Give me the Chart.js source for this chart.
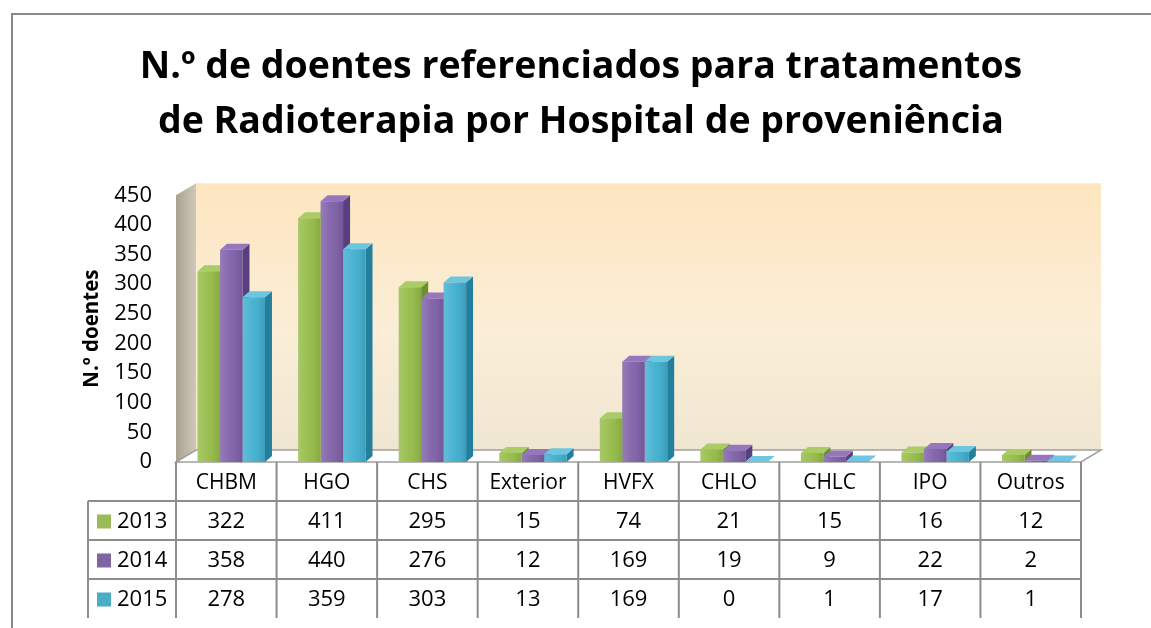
<!DOCTYPE html>
<html>
<head>
<meta charset="utf-8">
<script src="https://cdn.jsdelivr.net/npm/chart.js@4"></script>
<style>
  body { margin: 0; background: #fff; }
  canvas { display: block; }
</style>
</head>
<body>
<canvas id="chart" width="1151" height="628"></canvas>
<script>
// ===== DATA =====
const categories = ['CHBM', 'HGO', 'CHS', 'Exterior', 'HVFX', 'CHLO', 'CHLC', 'IPO', 'Outros'];
const years = ['2013', '2014', '2015'];
const values2013 = [322, 411, 295, 15, 74, 21, 15, 16, 12];
const values2014 = [358, 440, 276, 12, 169, 19, 9, 22, 2];
const values2015 = [278, 359, 303, 13, 169, 0, 1, 17, 1];
const yMax = 450;
const yStep = 50;

// ===== STYLE =====
const FONT = '"Open Sans", "DejaVu Sans", sans-serif';
const frontColors = ['#95bc47', '#7f5fa8', '#40afd0'];
const sideColors = ['#6d8f2c', '#5a3f80', '#237f9c'];
const topColors = ['#a9cc66', '#9677bd', '#6cc6e0'];
const legendColors = ['#9bbb59', '#8064a2', '#4bacc6'];
const WALL_DX = 20, WALL_DY = 12;   // depth of the 3D walls/floor
const BAR_DX = 7, BAR_DY = 6;       // depth of each 3D bar
const SHIFT = 5;                    // walls/table sit a bit left of the bar slots
const ROW_H = 39;
const LINE = '#8c8c8c';

const seriesValues = [values2013, values2014, values2015];

// frame + back wall + side wall + floor
const backdrop = {
  id: 'backdrop',
  beforeDraw(chart) {
    const { ctx, chartArea: a } = chart;
    const L = a.left - SHIFT, R = a.right - SHIFT;
    ctx.save();
    // outer frame (left + top only)
    ctx.strokeStyle = '#8a8a8a';
    ctx.lineWidth = 2;
    ctx.beginPath();
    ctx.moveTo(12, chart.height);
    ctx.lineTo(12, 14);
    ctx.lineTo(chart.width, 14);
    ctx.stroke();

    // back wall
    const g = ctx.createLinearGradient(0, a.top - WALL_DY, 0, a.bottom - WALL_DY);
    g.addColorStop(0, '#fde5c0');
    g.addColorStop(0.55, '#fbeed6');
    g.addColorStop(1, '#efe6d2');
    ctx.fillStyle = g;
    ctx.fillRect(L + WALL_DX, a.top - WALL_DY, R - L, a.bottom - a.top);

    // left side wall
    const sg = ctx.createLinearGradient(L, 0, L + WALL_DX, 0);
    sg.addColorStop(0, '#aaa291');
    sg.addColorStop(1, '#cfc8b8');
    ctx.fillStyle = sg;
    ctx.beginPath();
    ctx.moveTo(L, a.top);
    ctx.lineTo(L + WALL_DX, a.top - WALL_DY);
    ctx.lineTo(L + WALL_DX, a.bottom - WALL_DY);
    ctx.lineTo(L, a.bottom);
    ctx.closePath();
    ctx.fill();

    // floor
    ctx.fillStyle = '#ffffff';
    ctx.strokeStyle = '#a0a0a0';
    ctx.lineWidth = 1.5;
    ctx.beginPath();
    ctx.moveTo(L, a.bottom);
    ctx.lineTo(R, a.bottom);
    ctx.lineTo(R + WALL_DX, a.bottom - WALL_DY);
    ctx.lineTo(L + WALL_DX, a.bottom - WALL_DY);
    ctx.closePath();
    ctx.fill();
    ctx.stroke();
    ctx.restore();
  }
};

// side and top faces of the bars, drawn behind the front faces
const bars3d = {
  id: 'bars3d',
  beforeDatasetsDraw(chart) {
    const { ctx } = chart;
    ctx.save();
    chart.data.datasets.forEach((ds, di) => {
      chart.getDatasetMeta(di).data.forEach(bar => {
        const { x, y, base, width } = bar.getProps(['x', 'y', 'base', 'width'], true);
        const l = x - width / 2, r = x + width / 2;
        ctx.fillStyle = sideColors[di];
        ctx.beginPath();
        ctx.moveTo(r, y);
        ctx.lineTo(r + BAR_DX, y - BAR_DY);
        ctx.lineTo(r + BAR_DX, base - BAR_DY);
        ctx.lineTo(r, base);
        ctx.closePath();
        ctx.fill();
        ctx.fillStyle = topColors[di];
        ctx.beginPath();
        ctx.moveTo(l, y);
        ctx.lineTo(r, y);
        ctx.lineTo(r + BAR_DX, y - BAR_DY);
        ctx.lineTo(l + BAR_DX, y - BAR_DY);
        ctx.closePath();
        ctx.fill();
      });
    });
    ctx.restore();
  },
  afterDatasetsDraw(chart) {
    // a little shine on the front faces
    const { ctx } = chart;
    ctx.save();
    chart.data.datasets.forEach((ds, di) => {
      chart.getDatasetMeta(di).data.forEach(bar => {
        const { x, y, base, width } = bar.getProps(['x', 'y', 'base', 'width'], true);
        if (base - y < 1) return;
        const l = x - width / 2;
        const g = ctx.createLinearGradient(l, 0, l + width, 0);
        g.addColorStop(0, 'rgba(255,255,255,0.18)');
        g.addColorStop(0.45, 'rgba(255,255,255,0.05)');
        g.addColorStop(1, 'rgba(0,0,0,0.10)');
        ctx.fillStyle = g;
        ctx.fillRect(l, y, width, base - y);
      });
    });
    ctx.restore();
  }
};

// data table under the plot
const dataTable = {
  id: 'dataTable',
  afterDraw(chart) {
    const { ctx, chartArea: a } = chart;
    const xs = chart.scales.x;
    const L = a.left - SHIFT, R = a.right - SHIFT;
    const colW = (R - L) / categories.length;
    const top = a.bottom;
    const legendLeft = L - 88;
    ctx.save();
    ctx.strokeStyle = LINE;
    ctx.lineWidth = 2;

    // horizontal lines
    for (let r = 1; r <= years.length; r++) {
      const y = top + r * ROW_H;
      ctx.beginPath();
      ctx.moveTo(legendLeft, y);
      ctx.lineTo(R, y);
      ctx.stroke();
    }
    // vertical lines
    for (let c = 0; c <= categories.length; c++) {
      const x = L + c * colW;
      ctx.beginPath();
      ctx.moveTo(x, top);
      ctx.lineTo(x, top + (years.length + 1) * ROW_H);
      ctx.stroke();
    }
    ctx.beginPath();
    ctx.moveTo(legendLeft, top + ROW_H);
    ctx.lineTo(legendLeft, top + (years.length + 1) * ROW_H);
    ctx.stroke();

    ctx.fillStyle = '#000';
    ctx.textAlign = 'center';
    ctx.textBaseline = 'middle';
    ctx.font = '21px ' + FONT;
    categories.forEach((c, i) => {
      ctx.fillText(c, xs.getPixelForValue(i) - SHIFT, top + ROW_H / 2 + 2);
    });
    ctx.font = '22px ' + FONT;
    seriesValues.forEach((vals, r) => {
      const yc = top + (r + 1.5) * ROW_H + 1;
      vals.forEach((v, i) => ctx.fillText(String(v), xs.getPixelForValue(i) - SHIFT, yc));
      ctx.fillStyle = legendColors[r];
      ctx.fillRect(legendLeft + 9, yc - 7, 14, 14);
      ctx.fillStyle = '#000';
      ctx.textAlign = 'left';
      ctx.fillText(years[r], legendLeft + 29, yc);
      ctx.textAlign = 'center';
    });
    ctx.restore();
  }
};

new Chart(document.getElementById('chart'), {
  type: 'bar',
  data: {
    labels: categories,
    datasets: years.map((yr, i) => ({
      label: yr,
      data: seriesValues[i],
      backgroundColor: frontColors[i],
      borderWidth: 0,
      categoryPercentage: 0.67,
      barPercentage: 1.0
    }))
  },
  options: {
    responsive: false,
    animation: false,
    devicePixelRatio: 1,
    layout: { padding: { left: 76, right: 65, top: 0, bottom: 166 } },
    plugins: {
      legend: { display: false },
      tooltip: { enabled: false },
      title: {
        display: true,
        text: ['N.º de doentes referenciados para tratamentos', 'de Radioterapia por Hospital de proveniência'],
        color: '#000',
        font: { family: FONT, size: 37.5, weight: 'bold', lineHeight: 1.47 },
        padding: { top: 40, bottom: 45 }
      }
    },
    scales: {
      x: { display: false },
      y: {
        min: 0,
        max: yMax,
        ticks: { stepSize: yStep, color: '#000', padding: 29, font: { family: FONT, size: 22 } },
        grid: { display: false, drawTicks: false },
        border: { display: false },
        title: { display: true, text: 'N.º doentes', color: '#000', font: { family: FONT, size: 20.5, weight: 'bold' } },
        afterFit(scale) { scale.width = 105; }
      }
    }
  },
  plugins: [backdrop, bars3d, dataTable]
});
</script>
</body>
</html>
